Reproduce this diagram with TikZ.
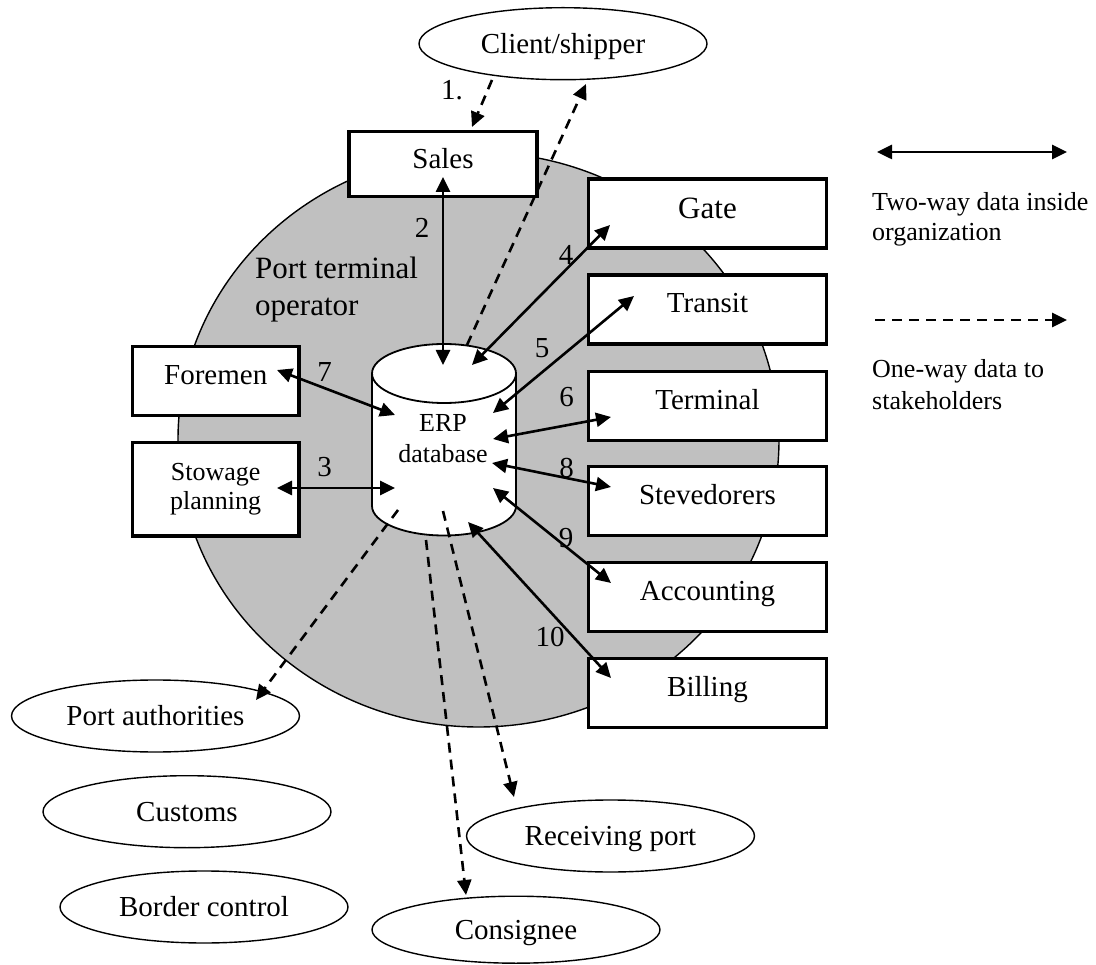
\documentclass[tikz,border=0pt]{standalone}
\usepackage{fontspec}
\setmainfont{Liberation Serif}
\usetikzlibrary{arrows.meta,shapes.geometric}
\definecolor{orggray}{RGB}{192,192,192}
\begin{document}
\begin{tikzpicture}[x=1pt,y=-1pt,
  box/.style={draw, line width=3.4pt, fill=white, rectangle, inner sep=0pt,
    font=\fontsize{29}{33}\selectfont},
  onetext/.style={text height=38pt, text depth=31pt},
  unitbox/.style={box, onetext, minimum width=238pt, anchor=north},
  party/.style={draw, line width=1.4pt, fill=white, ellipse, inner sep=0pt,
    minimum width=288pt, minimum height=72pt, text height=19.5pt, text depth=0pt,
    font=\fontsize{29}{33}\selectfont},
  tip/.tip={Triangle[length=15pt,width=14pt]},
  twoway/.style={line width=2.6pt, tip-tip},
  oneway/.style={line width=2.6pt, dash pattern=on 10pt off 7pt, -tip},
  num/.style={font=\fontsize{29}{33}\selectfont, inner sep=0pt},
  legendtext/.style={anchor=north west, inner sep=0pt, align=left},
]
\useasboundingbox (0,0) rectangle (1096,965);

% the operator's own organisation
\node[ellipse, draw, line width=1.4pt, fill=orggray, inner sep=0pt,
      minimum width=601pt, minimum height=574.6pt] (org) at (478.5,439.7) {};
\node[legendtext, font=\fontsize{31}{37}\selectfont] (orglabel) at (255,257)
  {Port terminal\\operator};

% ERP database cylinder
\filldraw[fill=white, line width=1.8pt] (372,373.5) -- (372,506)
  arc[start angle=180, end angle=0, x radius=72, y radius=29.5] -- (516,373.5);
\filldraw[fill=white, line width=1.8pt] (444,373.5) ellipse [x radius=72, y radius=29.5];
\node[font=\fontsize{26}{31}\selectfont, align=center, inner sep=0pt] (erp) at (443,439)
  {ERP\\database};

% departments
\node[box, minimum width=188pt, text height=37pt, text depth=28pt, anchor=north]
  (sales) at (443,130) {Sales};
\node[unitbox, font=\fontsize{31}{35}\selectfont, text height=39.5pt, text depth=29.5pt]
  (gate) at (707.5,177.5) {Gate};
\node[unitbox] (transit) at (707.5,273.3) {Transit};
\node[unitbox] (terminal) at (707.5,370) {Terminal};
\node[unitbox] (stevedorers) at (707.5,465) {Stevedorers};
\node[unitbox] (accounting) at (707.5,561) {Accounting};
\node[unitbox] (billing) at (707.5,656.7) {Billing};
\node[box, onetext, minimum width=166.5pt, anchor=north] (foremen) at (215.7,345) {Foremen};
\node[box, minimum width=166.5pt, minimum height=93.3pt, align=center,
      font=\fontsize{26}{29}\selectfont, anchor=north] (stowage) at (215.7,441)
  {Stowage\\planning};

% outside stakeholders
\node[party] (client) at (563,43.7) {Client/shipper};
\node[party] (portauth) at (155.5,716) {Port authorities};
\node[party] (customs) at (187,811.7) {Customs};
\node[party] (border) at (204,907) {Border control};
\node[party] (receiving) at (610.5,836) {Receiving port};
\node[party, minimum height=67pt] (consignee) at (516,929.7) {Consignee};

% connector end points
\coordinate (client-out) at (492,80);
\coordinate (sales-in) at (472,127);
\coordinate (client-in) at (586,84);
\coordinate (erp-top) at (467,345);
\coordinate (sales-low) at (443,177);
\coordinate (erp-2) at (443,365);
\coordinate (erp-4) at (472,365);
\coordinate (gate-in) at (610,225);
\coordinate (erp-5) at (493,413);
\coordinate (transit-in) at (634,296);
\coordinate (erp-6) at (493,439);
\coordinate (terminal-in) at (611,417);
\coordinate (foremen-in) at (277,370);
\coordinate (erp-7) at (395,415);
\coordinate (stowage-in) at (277,488);
\coordinate (erp-3) at (395,488);
\coordinate (erp-8) at (492,463);
\coordinate (stevedorers-in) at (611,487);
\coordinate (erp-9) at (493,488);
\coordinate (accounting-in) at (611,583);
\coordinate (erp-10) at (468,522);
\coordinate (billing-in) at (611,678);
\coordinate (erp-pa) at (398,510);
\coordinate (portauth-in) at (256,700);
\coordinate (erp-cons) at (426,540);
\coordinate (consignee-in) at (466,895);
\coordinate (erp-recv) at (443,511);
\coordinate (receiving-in) at (514,797);

% data flows
\draw[oneway] (client-out) -- (sales-in);
\draw[oneway] (erp-top) -- (client-in);
\draw[twoway] (sales-low) -- (erp-2);
\draw[twoway] (erp-4) -- (gate-in);
\draw[twoway] (erp-5) -- (transit-in);
\draw[twoway] (erp-6) -- (terminal-in);
\draw[twoway] (foremen-in) -- (erp-7);
\draw[twoway] (stowage-in) -- (erp-3);
\draw[twoway] (erp-8) -- (stevedorers-in);
\draw[twoway] (erp-9) -- (accounting-in);
\draw[twoway] (erp-10) -- (billing-in);
\draw[oneway] (erp-pa) -- (portauth-in);
\draw[oneway] (erp-cons) -- (consignee-in);
\draw[oneway] (erp-recv) -- (receiving-in);

% flow numbers
\node[num] (n1) at (452,90) {1.};
\node[num] (n2) at (422,228) {2};
\node[num] (n3) at (324.6,466.7) {3};
\node[num] (n4) at (566,255) {4};
\node[num] (n5) at (542,348) {5};
\node[num] (n6) at (566.7,396.7) {6};
\node[num] (n7) at (324.6,371.7) {7};
\node[num] (n8) at (566.7,468.3) {8};
\node[num] (n9) at (566,538) {9};
\node[num] (n10) at (550,637) {10};

% legend
\coordinate (lg-two-a) at (877,152);
\coordinate (lg-two-b) at (1067,152);
\coordinate (lg-one-a) at (875,320);
\coordinate (lg-one-b) at (1067,320);
\draw[twoway] (lg-two-a) -- (lg-two-b);
\draw[oneway] (lg-one-a) -- (lg-one-b);
\node[legendtext, font=\fontsize{26}{30}\selectfont] (lg-two-text) at (872,192.2)
  {Two-way data inside\\organization};
\node[legendtext, font=\fontsize{26}{32}\selectfont] (lg-one-text) at (872,359.2)
  {One-way data to\\stakeholders};
\end{tikzpicture}
\end{document}
